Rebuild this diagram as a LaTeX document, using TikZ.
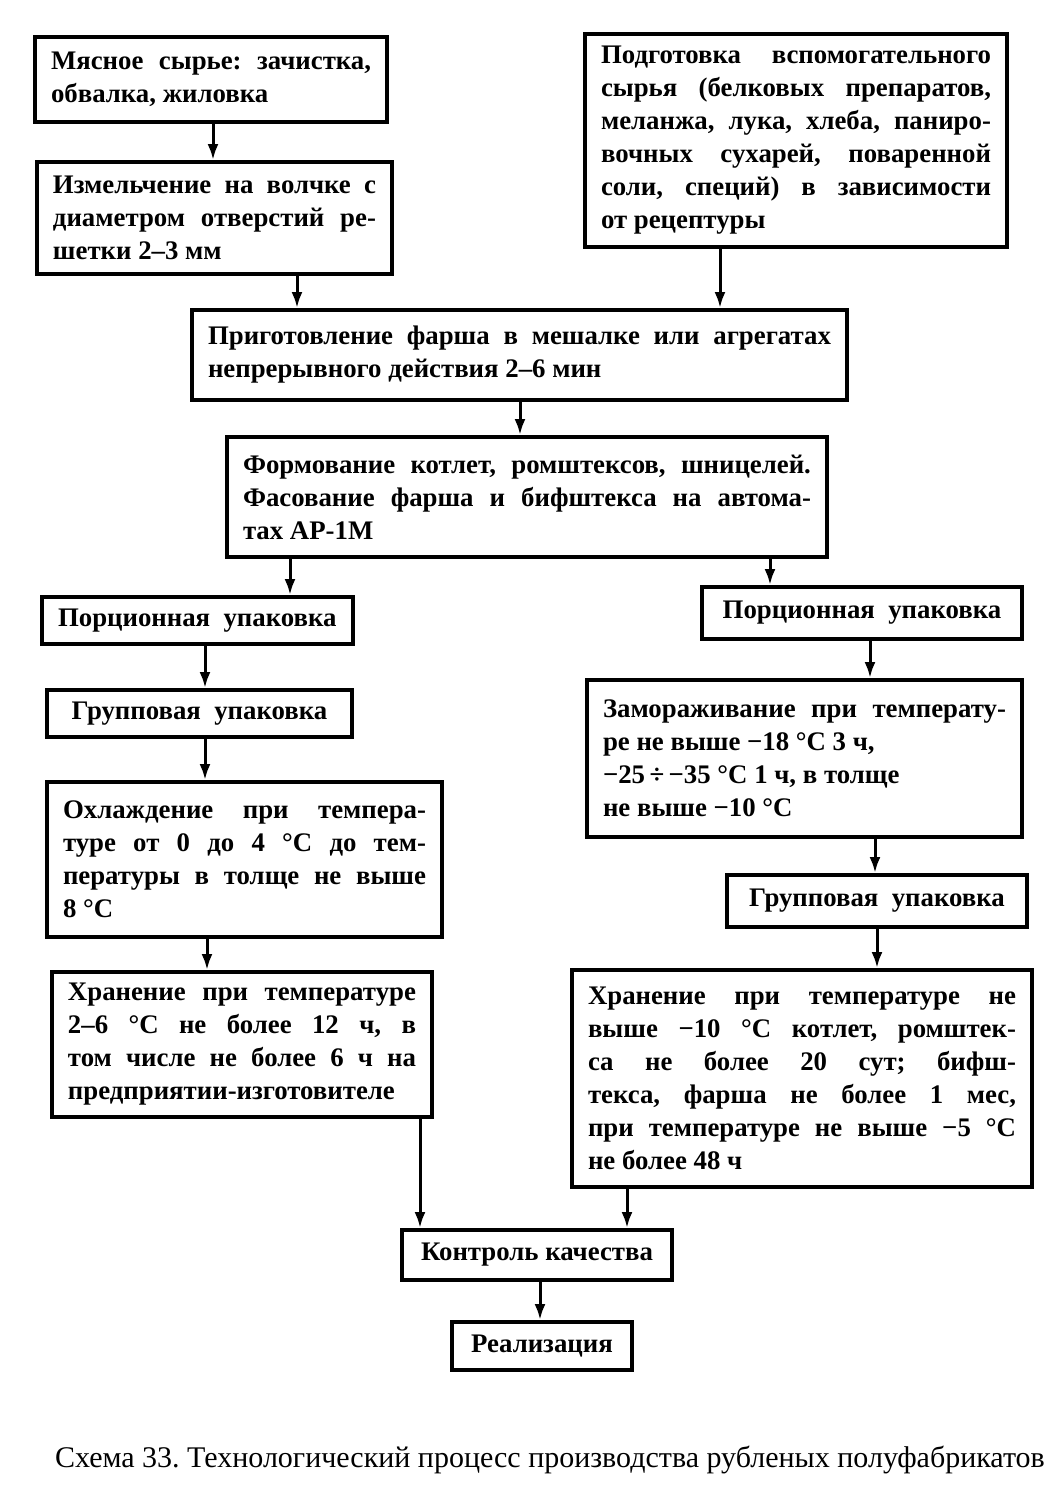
\documentclass[tikz,border=0pt]{standalone}
\usepackage{fontspec}
\setmainfont{Liberation Serif}
\usetikzlibrary{arrows.meta}
\frenchspacing

\begin{document}
\begin{tikzpicture}[
x=1pt, y=-1pt,
box/.style={draw=black, line width=2pt, anchor=north west, align=justify,
    inner xsep=8pt, inner ysep=4pt,
    font=\bfseries\fontsize{13.4}{16.5}\selectfont},
onebox/.style={box, align=center},
arrow/.style={line width=1.5pt, -{Latex[length=8pt,width=5.5pt]}},
caption/.style={anchor=west, font=\fontsize{15}{17}\selectfont},
]
\useasboundingbox (0,0) rectangle (522.5,750);

\node[box, text width=160pt, minimum height=42.5pt] (meat) at (16.5,17.5)
  {Мясное сырье: зачистка,\linebreak обвалка, жиловка};
\node[box, text width=161.5pt, minimum height=56pt] (grind) at (17.5,80)
  {Измельчение на волчке с\linebreak диаметром отверстий ре-\linebreak шетки 2–3 мм};
\node[box, text width=195pt, minimum height=106.5pt] (aux) at (291.5,16)
  {Подготовка вспомогательного\linebreak сырья (белковых препаратов,\linebreak
   меланжа, лука, хлеба, паниро-\linebreak вочных сухарей, поваренной\linebreak
   соли, специй) в зависимости\linebreak от рецептуры};
\node[box, text width=311.5pt, minimum height=45pt] (mix) at (95,154)
  {Приготовление фарша в мешалке или агрегатах\linebreak непрерывного действия 2–6 мин};
\node[box, text width=284pt, minimum height=60pt] (form) at (112.5,217.5)
  {Формование котлет, ромштексов, шницелей.\linebreak
   Фасование фарша и бифштекса на автома-\linebreak тах АР-1М};

\node[onebox, minimum width=152.5pt, minimum height=23.5pt] (portL) at (20,297.5)
  {Порционная\ \ упаковка};
\node[onebox, minimum width=152.5pt, minimum height=23.5pt] (groupL) at (22.5,344)
  {Групповая\ \ упаковка};
\node[box, text width=181.5pt, minimum height=77.5pt] (cool) at (22.5,390)
  {Охлаждение при темпера-\linebreak туре от 0 до 4~°C до тем-\linebreak
   пературы в толще не выше\linebreak 8~°C};
\node[box, text width=174pt, minimum height=72.5pt] (storeL) at (25,485)
  {Хранение при температуре\linebreak 2–6~°C не более 12 ч, в\linebreak
   том числе не более 6 ч на\linebreak предприятии-изготовителе};

\node[onebox, minimum width=160pt, minimum height=26pt] (portR) at (350,292.5)
  {Порционная\ \ упаковка};
\node[box, text width=201.5pt, minimum height=78.5pt] (freeze) at (292.5,339)
  {Замораживание при температу-\linebreak ре не выше −18~°C 3 ч,\\
   −25\,÷\,−35~°C 1 ч, в толще\\ не выше −10~°C};
\node[onebox, minimum width=150pt, minimum height=26pt] (groupR) at (362.5,436.5)
  {Групповая\ \ упаковка};
\node[box, text width=214pt, minimum height=108.5pt] (storeR) at (285,484)
  {Хранение при температуре не\linebreak выше −10~°C котлет, ромштек-\linebreak
   са не более 20 сут; бифш-\linebreak текса, фарша не более 1 мес,\linebreak
   при температуре не выше −5~°C\linebreak не более 48 ч};

\node[onebox, minimum width=135pt, minimum height=25pt] (check) at (200,614)
  {Контроль качества};
\node[onebox, minimum width=90pt, minimum height=24pt] (sale) at (225,660)
  {Реализация};

\node[caption] (title) at (24,730)
  {Схема 33. Технологический процесс производства рубленых полуфабрикатов};

\foreach \n/\x in {a/106.5, b/148.5, c/360, d/260, e/145, f/385, g/102.5,
    h/103.5, i/210, j/435, k/437.5, l/438.5, m/313.5, n/270}
  \coordinate (x\n) at (\x,0);

\foreach \from/\to/\c in {meat/grind/a, grind/mix/b, aux/mix/c, mix/form/d,
    form/portL/e, form/portR/f, portL/groupL/g, groupL/cool/g, cool/storeL/h,
    storeL/check/i, portR/freeze/j, freeze/groupR/k, groupR/storeR/l,
    storeR/check/m, check/sale/n}
  \draw[arrow] (\from.south -| x\c) -- (\to.north -| x\c);

\end{tikzpicture}
\end{document}
